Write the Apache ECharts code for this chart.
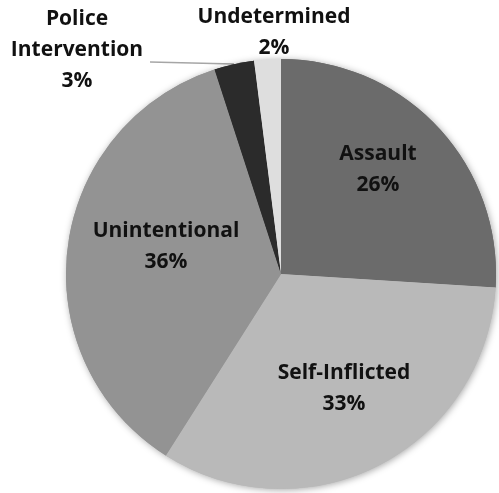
<!DOCTYPE html>
<html>
<head>
<meta charset="utf-8">
<script src="https://cdn.jsdelivr.net/npm/echarts@6/dist/echarts.min.js"></script>
<style>
html,body{margin:0;padding:0;background:#fff;}
#chart{width:499px;height:493px;}
</style>
</head>
<body>
<div id="chart"></div>
<script>
var categories = ["Assault", "Self-Inflicted", "Unintentional", "Police Intervention", "Undetermined"];
var values = [26, 33, 36, 3, 2];

var colors = ["#6b6b6b", "#b9b9b9", "#939393", "#2b2b2b", "#dedede"];
var CX = 281, CY = 274, R = 215;
// label block centres, relative to pie centre (px)
var labelOffsets = [[97, -104], [63, 115], [-115, -27], [-204, -224], [-7, -241]];
var leaderLine = { index: 3, from: [-47, -210], to: [-131, -212] };

var chart = echarts.init(document.getElementById('chart'));

function makeData(withStyle) {
  return categories.map(function (c, i) {
    return { name: c, value: values[i], itemStyle: { color: colors[i] } };
  });
}

var option = {
  backgroundColor: '#ffffff',
  animation: false,
  series: [
    {
      type: 'pie',
      silent: true,
      center: [CX, CY],
      radius: R,
      startAngle: 90,
      clockwise: true,
      label: { show: false },
      labelLine: { show: false },
      itemStyle: { shadowBlur: 7, shadowColor: 'rgba(0,0,0,0.35)', shadowOffsetX: 1, shadowOffsetY: 1 },
      data: makeData()
    },
    {
      type: 'pie',
      center: [CX, CY],
      radius: R,
      startAngle: 90,
      clockwise: true,
      avoidLabelOverlap: false,
      itemStyle: { borderWidth: 0 },
      label: {
        show: true,
        position: 'outside',
        fontFamily: 'Open Sans',
        fontWeight: 'bold',
        fontSize: 21,
        lineHeight: 31,
        color: '#111111',
        align: 'center',
        formatter: function (p) {
          return p.name.replace(' ', '\n') + '\n' + Math.round(p.percent) + '%';
        }
      },
      labelLine: { show: true, lineStyle: { color: '#a6a6a6', width: 1.5 } },
      labelLayout: function (p) {
        var o = labelOffsets[p.dataIndex];
        var res = { x: CX + o[0], y: CY + o[1], align: 'center', verticalAlign: 'middle' };
        if (p.dataIndex === leaderLine.index) {
          var a = [CX + leaderLine.from[0], CY + leaderLine.from[1]];
          var b = [CX + leaderLine.to[0], CY + leaderLine.to[1]];
          res.labelLinePoints = [a, [(a[0] + b[0]) / 2, (a[1] + b[1]) / 2], b];
        } else {
          res.labelLinePoints = [[0, 0], [0, 0], [0, 0]];
        }
        return res;
      },
      data: categories.map(function (c, i) {
        var d = { name: c, value: values[i], itemStyle: { color: colors[i] } };
        if (i !== leaderLine.index) d.labelLine = { show: false };
        return d;
      })
    }
  ]
};
chart.setOption(option);
</script>
</body>
</html>
